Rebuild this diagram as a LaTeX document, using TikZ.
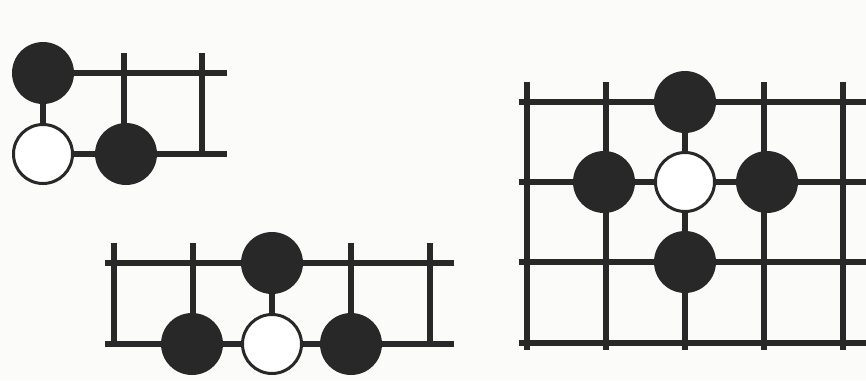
\documentclass[tikz,border=0pt]{standalone}
\usepackage{xcolor}
\usepackage{tikz}
\usetikzlibrary{positioning}
\definecolor{ink}{RGB}{40,40,40}
\definecolor{paper}{RGB}{251,251,249}
\begin{document}
\begin{tikzpicture}[x=0.3mm, y=-0.3mm,
        gridline/.style={draw=ink, line width=1.7mm},
        blackstone/.style={circle, fill=ink, minimum size=18.6mm, inner sep=0pt},
        whitestone/.style={circle, draw=ink, fill=white, line width=0.9mm, minimum size=17.7mm, inner sep=0pt}]
        \fill[paper] (0,0) rectangle (866,380);
        \useasboundingbox (0,0) rectangle (866,380);

        % corner
        \draw[gridline] (43,73) -- (227,73);
        \draw[gridline] (43,154) -- (227,154);
        \draw[gridline] (124,53) -- (124,154);
        \draw[gridline] (202,53) -- (202,154);
        \node[blackstone] (cb1) at (43,73) {};
        \node[whitestone] (cw) at (43,154) {};
        \node[blackstone] (cb2) at (126,154) {};
        \draw[gridline] (cb1) -- (cw);

        % edge
        \draw[gridline] (105,263) -- (454,263);
        \draw[gridline] (105,344) -- (454,344);
        \draw[gridline] (114,243) -- (114,344);
        \draw[gridline] (193,243) -- (193,344);
        \draw[gridline] (351,243) -- (351,344);
        \draw[gridline] (430,243) -- (430,344);
        \node[blackstone] (et) at (272,263) {};
        \node[blackstone] (el) at (192,344) {};
        \node[whitestone] (ew) at (272,344) {};
        \node[blackstone] (er) at (351,344) {};
        \draw[gridline] (et) -- (ew);

        % centre
        \draw[gridline] (519,102) -- (866,102);
        \draw[gridline] (519,182) -- (866,182);
        \draw[gridline] (519,262) -- (866,262);
        \draw[gridline] (519,343) -- (866,343);
        \draw[gridline] (527,82) -- (527,350);
        \draw[gridline] (606,82) -- (606,350);
        \draw[gridline] (685,82) -- (685,350);
        \draw[gridline] (764,82) -- (764,350);
        \draw[gridline] (843,82) -- (843,350);
        \node[blackstone] (mt) at (685,102) {};
        \node[blackstone] (ml) at (604,182) {};
        \node[whitestone] (mw) at (685,182) {};
        \node[blackstone] (mr) at (767,182) {};
        \node[blackstone] (mb) at (685,262) {};
      \end{tikzpicture}
\end{document}
